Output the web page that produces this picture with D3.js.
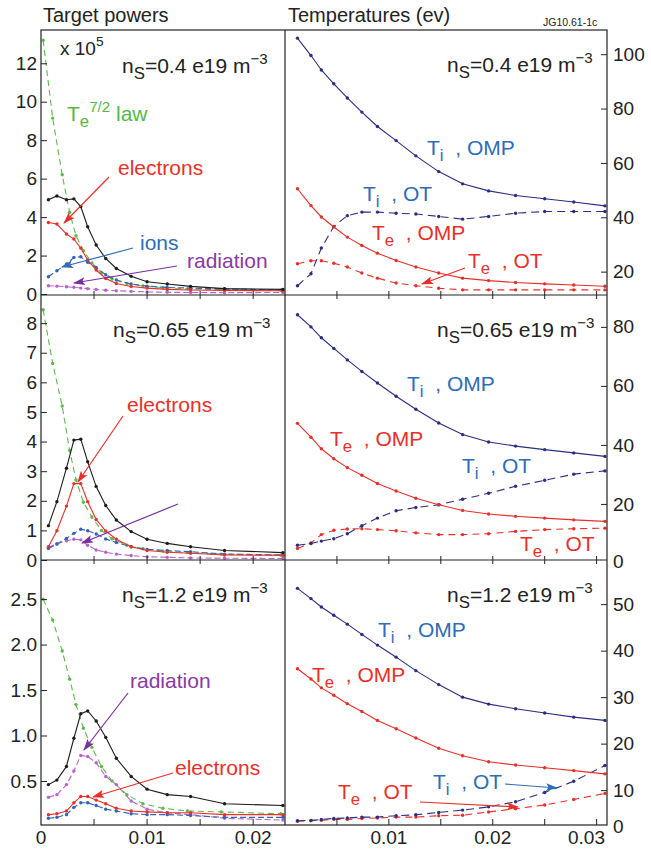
<!DOCTYPE html>
<html><head><meta charset="utf-8">
<script src="https://cdn.jsdelivr.net/npm/d3@7"></script>
<style>
body{margin:0;background:#fff}
svg{display:block}
text{font-family:"Liberation Sans",Arial,Helvetica,sans-serif;white-space:pre}
</style></head>
<body><svg id="c" width="651" height="852"></svg>
<script>
// ---------------- DATA ----------------
// x grids (target / OMP distance, m)
const xPow = [0.0007,0.0015,0.0024,0.0031,0.00375,0.0044,0.0052,0.0061,0.0071,0.0085,0.0100,0.0119,0.0141,0.0173,0.0228];
const xLaw = [0.0002,0.0011,0.0020,0.0027,0.0033,0.0040,0.0048,0.0057,0.0067,0.0081,0.0096,0.0115,0.0138,0.0170,0.0226];
const xTemp = [0.0012,0.0025,0.0035,0.0047,0.0060,0.0074,0.0089,0.0107,0.0126,0.0148,0.0171,0.0196,0.0222,0.0250,0.0278,0.0308];

// target powers (x 1e5), ns = 0.4
const total04 = [4.9,5.1,4.9,4.95,4.55,3.5,2.55,1.85,1.33,0.92,0.64,0.52,0.40,0.28,0.24];
const elec04  = [3.72,3.64,3.12,2.86,2.39,1.77,1.25,0.81,0.55,0.39,0.31,0.24,0.21,0.19,0.17];
const ions04  = [0.9,1.21,1.56,1.9,1.94,1.65,1.38,1.0,0.73,0.52,0.41,0.34,0.31,0.26,0.22];
const rad04   = [0.43,0.41,0.38,0.35,0.31,0.28,0.24,0.20,0.17,0.14,0.11,0.09,0.08,0.07,0.08];
const law04   = [13.2,9.15,6.2,4.25,3.03,2.25,1.62,1.1,0.78,0.55,0.42,0.33,0.27,0.23,0.2];
// ns = 0.65
const total065 = [1.16,1.97,3.10,4.05,4.08,3.32,2.48,1.84,1.35,0.96,0.70,0.56,0.45,0.32,0.25];
const elec065  = [0.45,0.99,1.82,2.58,2.58,1.97,1.37,0.98,0.70,0.45,0.32,0.26,0.23,0.17,0.16];
const ions065  = [0.39,0.54,0.73,0.90,1.04,0.99,0.88,0.71,0.59,0.45,0.36,0.32,0.28,0.20,0.17];
const rad065   = [0.43,0.54,0.65,0.70,0.68,0.50,0.34,0.26,0.20,0.15,0.11,0.09,0.07,0.06,0.05];
const law065   = [8.45,6.64,5.2,3.7,2.7,1.95,1.45,1.0,0.72,0.5,0.38,0.3,0.25,0.2,0.16];
// ns = 1.2
const total12 = [0.46,0.51,0.66,0.97,1.24,1.27,1.16,0.98,0.75,0.55,0.41,0.35,0.33,0.25,0.23];
const elec12  = [0.13,0.14,0.17,0.26,0.33,0.33,0.29,0.25,0.20,0.17,0.16,0.15,0.15,0.13,0.13];
const ions12  = [0.09,0.10,0.13,0.21,0.26,0.26,0.23,0.19,0.17,0.14,0.13,0.13,0.12,0.10,0.10];
const rad12   = [0.32,0.35,0.46,0.61,0.78,0.77,0.70,0.55,0.46,0.28,0.19,0.15,0.13,0.09,0.07];
const law12   = [2.5,2.27,1.93,1.62,1.34,1.08,0.87,0.66,0.5,0.35,0.25,0.2,0.17,0.16,0.14];

// temperatures (eV)
const TiOMP04 = [105.9,99.5,94.2,89.1,83.9,78.7,73.4,68.2,62.6,56.8,52.3,49.7,48.0,46.8,45.6,44.2];
const TiOT04  = [14.8,19.2,28.7,36.6,40.6,41.9,41.9,41.5,41.2,40.3,39.3,40.3,41.5,42.1,42.1,42.1];
const TeOMP04 = [50.5,44.3,40.1,36.4,32.7,29.6,26.8,24.1,21.7,19.5,17.6,16.7,16.0,15.5,15.1,14.6];
const TeOT04  = [22.9,24.0,24.0,23.1,21.7,19.5,17.6,15.8,14.8,13.9,13.3,13.3,13.3,13.3,13.3,13.3];

const TiOMP065 = [84.1,80.0,76.3,72.7,68.8,64.9,61.0,56.5,52.1,47.4,43.5,41.0,39.6,38.4,37.3,36.1];
const TeOMP065 = [47.3,42.6,38.7,35.3,32.3,29.7,26.9,24.4,21.9,19.7,17.8,16.6,15.8,15.2,14.6,14.1];
const TiOT065  = [6.0,6.6,7.4,8.2,9.9,12.6,15.2,17.7,18.8,19.7,21.6,23.6,26.0,28.0,30.1,31.2];
const TeOT065  = [4.9,6.8,9.6,11.1,11.5,11.6,11.3,10.9,10.2,9.6,9.6,9.9,10.7,11.3,11.6,11.8];

const TiOMP12 = [53.4,51.2,49.4,47.6,45.7,43.5,41.2,38.6,35.7,32.7,30.0,28.5,27.5,26.6,25.7,25.0];
const TeOMP12 = [36.1,33.9,32.0,30.4,28.6,26.9,25.0,23.2,21.2,19.0,17.4,16.1,15.4,14.8,14.2,13.5];
const TiOT12  = [3.4,3.5,3.7,3.9,4.0,4.2,4.2,4.5,4.7,5.2,5.7,6.4,7.5,9.5,11.9,15.3];
const TeOT12  = [3.3,3.4,3.5,3.7,3.7,3.9,4.0,4.2,4.2,4.5,4.6,5.3,6.0,6.8,8.0,9.3];

// tick labels
const yTicksPow04  = [0,2,4,6,8,10,12];
const yTicksPow065 = [0,1,2,3,4,5,6,7,8];
const yTicksPow12  = [0.5,1.0,1.5,2.0,2.5];
const yTicksT04  = [20,40,60,80,100];
const yTicksT065 = [0,20,40,60,80];
const yTicksT12  = [0,10,20,30,40,50];
const xTickMarks = [0.005,0.01,0.015,0.02,0.025,0.03];
const xLabelsLeft = [0,0.01,0.02];
const xLabelsRight = [0.01,0.02,0.03];
const densities = ["0.4","0.65","1.2"];

// ---------------- LAYOUT ----------------
const colL = 41, colM = 285, colR = 607;
const rows = [[30,295],[295,560],[560,825]];
const col = {black:'#1c1c1c', red:'#e8302a', ions:'#3562b6', purple:'#b466c6', green:'#5cba4b',
             navy:'#2b2d80', tBlue:'#2f6cb6', tPurple:'#8a3aa3', aPurple:'#7a2fa0', tGreen:'#56b847'};
const svg = d3.select('#c');
const defs = svg.append('defs');
function marker(id, c){
  defs.append('marker').attr('id',id).attr('viewBox','0 0 12 8').attr('refX',11).attr('refY',4)
   .attr('markerWidth',12).attr('markerHeight',8).attr('markerUnits','userSpaceOnUse').attr('orient','auto')
   .append('path').attr('d','M0,0 L12,4 L0,8 L2.5,4 z').attr('fill',c);
}
marker('ar-red',col.red); marker('ar-blue',col.tBlue); marker('ar-purple',col.aPurple);

const xL = d3.scaleLinear().domain([0,0.023]).range([colL,colM]);
const xR = d3.scaleLinear().domain([0,0.031]).range([colM,colR]);

function rich(g, x, y, parts, size, color, anchor){
  const t = g.append('text').attr('x',x).attr('y',y).attr('font-size',size).attr('fill',color)
    .attr('text-anchor',anchor||'start');
  let shift = 0;
  parts.forEach(p=>{
    const target = p.sub ? size*0.3 : p.sup ? -size*0.45 : 0;
    t.append('tspan').attr('dy', target-shift).attr('font-size', p.sub? size*0.8 : p.sup? size*0.72 : size).text(p.t);
    shift = target;
  });
  return t;
}
function arrow(x1,y1,x2,y2,c,id){
  svg.append('line').attr('x1',x1).attr('y1',y1).attr('x2',x2).attr('y2',y2)
    .attr('stroke',c).attr('stroke-width',1.2).attr('marker-end',`url(#${id})`);
}

const powerPanels = [
  {ydom:[-0.05,13.73], ticks:yTicksPow04, fmt:d3.format('d'),
   series:[[law04,xLaw,col.green,'6,4'],[rad04,xPow,col.purple,'6,3'],[ions04,xPow,col.ions,'6,3'],[elec04,xPow,col.red,null],[total04,xPow,col.black,null]]},
  {ydom:[0,8.95], ticks:yTicksPow065, fmt:d3.format('d'),
   series:[[law065,xLaw,col.green,'6,4'],[rad065,xPow,col.purple,'6,3'],[ions065,xPow,col.ions,'6,3'],[elec065,xPow,col.red,null],[total065,xPow,col.black,null]]},
  {ydom:[0.016,2.93], ticks:yTicksPow12, fmt:d3.format('.1f'),
   series:[[law12,xLaw,col.green,'6,4'],[rad12,xPow,col.purple,'6,3'],[ions12,xPow,col.ions,'6,3'],[elec12,xPow,col.red,null],[total12,xPow,col.black,null]]}
];
const tempPanels = [
  {ydom:[11.4,108.9], ticks:yTicksT04,
   series:[[TeOT04,col.red,'7,5'],[TiOT04,col.navy,'8,5'],[TeOMP04,col.red,null],[TiOMP04,col.navy,null]]},
  {ydom:[1,90.8], ticks:yTicksT065,
   series:[[TeOT065,col.red,'7,5'],[TiOT065,col.navy,'8,5'],[TeOMP065,col.red,null],[TiOMP065,col.navy,null]]},
  {ydom:[2.5,59.5], ticks:yTicksT12,
   series:[[TeOT12,col.red,'7,5'],[TiOT12,col.navy,'8,5'],[TeOMP12,col.red,null],[TiOMP12,col.navy,null]]}
];

function clip(id,x0,x1,y0,y1){
  defs.append('clipPath').attr('id',id).append('rect').attr('x',x0).attr('y',y0).attr('width',x1-x0).attr('height',y1-y0);
}

powerPanels.forEach((p,r)=>{
  const [top,bot] = rows[r];
  const y = d3.scaleLinear().domain(p.ydom).range([bot,top]);
  clip('cl'+r,colL,colM,top,bot);
  const g = svg.append('g').attr('clip-path',`url(#cl${r})`);
  p.series.forEach(([v,xs,c,dash])=>{
    const line = d3.line().x((d,i)=>xL(xs[i])).y(d=>y(d));
    g.append('path').attr('d',line(v)).attr('fill','none').attr('stroke',c).attr('stroke-width',1.1)
      .attr('stroke-dasharray',dash);
    g.selectAll(null).data(v).enter().append('circle').attr('cx',(d,i)=>xL(xs[i])).attr('cy',d=>y(d))
      .attr('r',1.7).attr('fill',c);
  });
  const ax = svg.append('g').attr('transform',`translate(${colL},0)`)
    .call(d3.axisLeft(y).tickValues(p.ticks).tickFormat(p.fmt).tickSize(-6).tickPadding(4));
  ax.select('.domain').remove();
  ax.selectAll('line').attr('stroke','#222');
  ax.selectAll('text').attr('font-size',19).attr('fill','#222').attr('font-family','"Liberation Sans",Arial,sans-serif');
});

tempPanels.forEach((p,r)=>{
  const [top,bot] = rows[r];
  const y = d3.scaleLinear().domain(p.ydom).range([bot,top]);
  clip('cr'+r,colM,colR,top,bot);
  const g = svg.append('g').attr('clip-path',`url(#cr${r})`);
  p.series.forEach(([v,c,dash])=>{
    const line = d3.line().x((d,i)=>xR(xTemp[i])).y(d=>y(d));
    g.append('path').attr('d',line(v)).attr('fill','none').attr('stroke',c).attr('stroke-width',1.1)
      .attr('stroke-dasharray',dash);
    g.selectAll(null).data(v).enter().append('circle').attr('cx',(d,i)=>xR(xTemp[i])).attr('cy',d=>y(d))
      .attr('r',1.7).attr('fill',c);
  });
  const ax = svg.append('g').attr('transform',`translate(${colR},0)`)
    .call(d3.axisRight(y).tickValues(p.ticks).tickFormat(d3.format('d')).tickSize(-6).tickPadding(6));
  ax.select('.domain').remove();
  ax.selectAll('.tick').each(function(d){
    const pos = y(d);
    if(pos>bot+0.5){
      d3.select(this).select('line').remove();
      d3.select(this).attr('transform',`translate(0,${Math.min(pos,bot+2)})`);
    }
  });
  ax.selectAll('line').attr('stroke','#222');
  ax.selectAll('text').attr('font-size',19).attr('fill','#222').attr('font-family','"Liberation Sans",Arial,sans-serif');
});

// frame
const frame = svg.append('g').attr('stroke','#222').attr('stroke-width',1.2).attr('fill','none');
frame.append('rect').attr('x',colL).attr('y',rows[0][0]).attr('width',colR-colL).attr('height',rows[2][1]-rows[0][0]);
frame.append('line').attr('x1',colM).attr('x2',colM).attr('y1',rows[0][0]).attr('y2',rows[2][1]);
[rows[0][1],rows[1][1]].forEach(yy=>frame.append('line').attr('x1',colL).attr('x2',colR).attr('y1',yy).attr('y2',yy));

// x tick marks
rows.forEach(([top,bot],r)=>{
  const y0 = r<2 ? bot-4 : bot-6, y1 = r<2 ? bot+4 : bot;
  xTickMarks.filter(v=>xL(v)<colM-2).forEach(v=>frame.append('line').attr('x1',xL(v)).attr('x2',xL(v)).attr('y1',y0).attr('y2',y1).attr('stroke-width',1));
  xTickMarks.filter(v=>xR(v)<colR-2).forEach(v=>frame.append('line').attr('x1',xR(v)).attr('x2',xR(v)).attr('y1',y0).attr('y2',y1).attr('stroke-width',1));
});
const bx = svg.append('g').attr('font-size',19).attr('fill','#222').attr('text-anchor','middle');
const fx = d=> d===0 ? '0' : d3.format('.2f')(d);
xLabelsLeft.forEach(v=>bx.append('text').attr('x',xL(v)).attr('y',rows[2][1]+19).text(fx(v)));
xLabelsRight.forEach((v,i)=>{
  const last = i===xLabelsRight.length-1;
  bx.append('text').attr('x', last ? colR-2 : xR(v)).attr('text-anchor', last ? 'end' : 'middle')
    .attr('y',rows[2][1]+19).text(fx(v));
});

// titles
svg.append('text').attr('x',43).attr('y',22).attr('font-size',20).attr('fill','#222').text('Target powers');
svg.append('text').attr('x',288).attr('y',22).attr('font-size',20).attr('fill','#222').text('Temperatures (ev)');
svg.append('text').attr('x',543).attr('y',26).attr('font-size',10.5).attr('fill','#222').text('JG10.61-1c');

// density labels
const nsPos = [[[122,73],[447,72]],[[113,337],[437,337]],[[122,602],[447,602]]];
densities.forEach((d,r)=>{
  nsPos[r].forEach(([x,y])=>rich(svg,x,y,[{t:'n'},{t:'S',sub:true},{t:`=${d} e19 m`},{t:'\u22123',sup:true}],21,'#222'));
});

// annotations: left column
rich(svg,60,55,[{t:'x 10'},{t:'5',sup:true}],19,'#222');
rich(svg,67,121,[{t:'T'},{t:'e',sub:true},{t:'7/2',sup:true},{t:' law'}],21,col.tGreen);
rich(svg,118,175,[{t:'electrons'}],21,col.red); arrow(109,177,64,223,col.red,'ar-red');
rich(svg,140,250,[{t:'ions'}],21,col.tBlue); arrow(133,248,62,267,col.tBlue,'ar-blue');
rich(svg,187,268,[{t:'radiation'}],21,col.tPurple); arrow(177,266,74,283,col.aPurple,'ar-purple');

rich(svg,127,412,[{t:'electrons'}],21,col.red); arrow(123,416,78,482,col.red,'ar-red');
arrow(178,504,82,543,col.aPurple,'ar-purple');

rich(svg,130,688,[{t:'radiation'}],21,col.tPurple); arrow(128,693,84,750,col.aPurple,'ar-purple');
rich(svg,175,775,[{t:'electrons'}],21,col.red); arrow(173,773,93,797,col.red,'ar-red');

// annotations: right column
const TiOMP = [{t:'T'},{t:'i',sub:true},{t:'\u00a0\u00a0, OMP'}];
const TiOT  = [{t:'T'},{t:'i',sub:true},{t:'\u00a0\u00a0, OT'}];
const TeOMP = [{t:'T'},{t:'e',sub:true},{t:'\u00a0\u00a0, OMP'}];
const TeOT  = [{t:'T'},{t:'e',sub:true},{t:'\u00a0\u00a0, OT'}];
rich(svg,427,155,TiOMP,21,col.tBlue);
rich(svg,363,201,TiOT,21,col.tBlue);
rich(svg,372,240,TeOMP,21,col.red);
rich(svg,468,268,TeOT,21,col.red); arrow(465,268,422,284,col.red,'ar-red');

rich(svg,407,391,TiOMP,21,col.tBlue);
rich(svg,330,446,TeOMP,21,col.red);
rich(svg,462,473,TiOT,21,col.tBlue);
rich(svg,520,551,TeOT,21,col.red);

rich(svg,378,637,TiOMP,21,col.tBlue);
rich(svg,312,682,TeOMP,21,col.red);
rich(svg,433,789,TiOT,21,col.tBlue); arrow(505,784,557,788,col.tBlue,'ar-blue');
rich(svg,338,799,TeOT,21,col.red); arrow(420,802,518,807,col.red,'ar-red');
</script></body></html>
